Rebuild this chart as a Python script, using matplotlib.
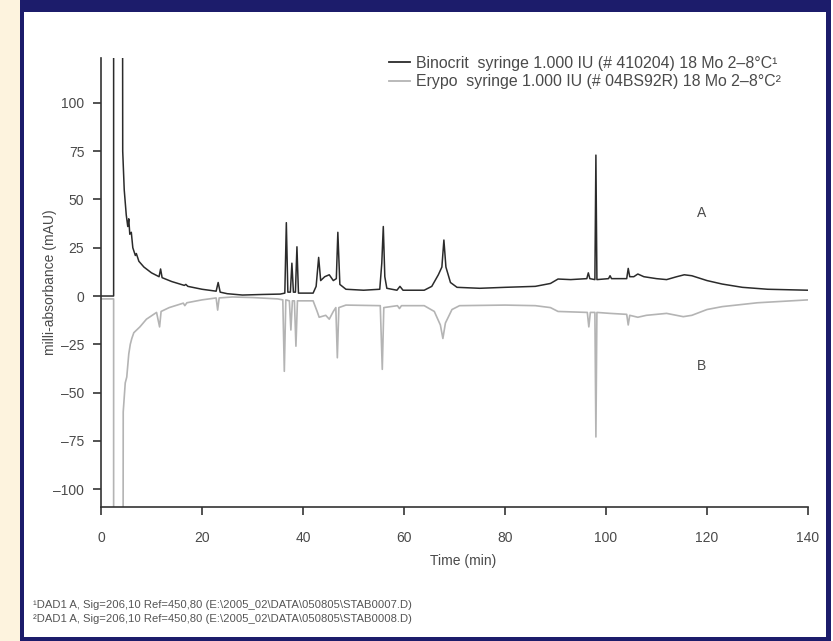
import matplotlib
matplotlib.use("Agg")
import matplotlib.pyplot as plt
from matplotlib.patches import Rectangle
from matplotlib.lines import Line2D

plt.rcParams['font.family'] = ['Liberation Sans', 'DejaVu Sans']

# ---- data ----
time_a = [0, 2.5, 2.5, 4.1, 4.3, 4.6, 5.0, 5.3, 5.5, 5.7, 6.0, 6.3, 6.8, 7.0, 7.5, 8.5,
          10, 11.5, 11.8, 12.1, 14, 16.5, 16.8, 17.2, 20, 22.8, 23.2, 23.6, 25, 28, 32,
          35.5, 36.4, 36.7, 37.0, 37.5, 37.8, 38.1, 38.5, 38.8, 39.1, 42.0, 42.6, 43.1,
          43.5, 44.3, 45.2, 46.0, 46.6, 46.9, 47.3, 48.5, 52, 55.2, 55.6, 55.9, 56.2,
          56.6, 58.6, 59.2, 59.8, 64, 65.5, 66.8, 67.5, 67.9, 68.3, 69.2, 70.5, 75, 80,
          86, 89, 90.5, 93, 96.2, 96.5, 96.8, 97.8, 98.0, 98.2, 100.5, 100.8, 101.1,
          104.1, 104.4, 104.7, 105.5, 106.3, 107.5, 110, 112, 114, 115.5, 117, 120, 123,
          127, 132, 140]
mau_a = [0, 0, 600, 600, 75, 55, 42, 36, 40, 32, 33, 25, 21, 22, 18, 15,
         12, 10, 14, 9.5, 7.5, 5.5, 6, 5, 3.5, 2.5, 7, 2.0, 1.2, 0.5, 0.8,
         1.0, 1.5, 38, 2, 2, 17, 2, 2, 25.5, 1.5, 1.5, 5, 20,
         8, 10, 11, 8, 9, 33, 6, 3.5, 3, 3.5, 17, 36, 10,
         4, 3, 5, 3, 3, 5, 11, 15, 29, 15, 7, 4.5, 4, 4.5,
         5, 6.5, 8.8, 8.5, 9, 12, 9, 8.5, 73, 8.5, 9, 10.5, 9,
         9, 14.3, 10, 10, 11.4, 10, 9, 8.5, 10, 11, 10.5, 8, 6.2,
         4.5, 3.5, 3]

time_b = [0, 2.5, 2.5, 4.2, 4.4, 4.8, 5.1, 5.5, 5.8, 6.1, 6.5, 7.7, 9, 11, 11.6, 11.9,
          13.5, 16.3, 16.6, 17, 20, 22.8, 23.1, 23.4, 26, 30, 35, 36.0, 36.3, 36.6,
          37.3, 37.6, 37.9, 38.3, 38.6, 38.9, 42, 42.8, 43.2, 44.5, 45.2, 46, 46.5,
          46.8, 47.1, 48.5, 55.3, 55.7, 56.0, 58.7, 59.1, 59.5, 64, 66, 67.2, 67.7,
          68.2, 69.5, 71, 80, 86, 89, 90.5, 96.3, 96.6, 96.9, 97.8, 98.0, 98.2, 100.8,
          104.1, 104.4, 104.7, 106.3, 108, 112, 115.3, 117, 120, 123, 130, 140]
mau_b = [-1.5, -1.5, -600, -600, -60, -45, -42, -30, -25, -22, -19, -16, -12, -8.5, -16, -8,
         -6, -3.7, -5, -3.5, -2, -1, -7.3, -1, -0.5, -0.8, -1.5, -2, -39, -2,
         -2.5, -17.6, -2.5, -2.5, -26, -2.5, -2.5, -8, -11, -10, -12, -8, -6,
         -32, -6, -4.7, -5, -38, -6, -5, -6.5, -5, -5, -8, -15, -22,
         -14, -7, -5, -4.7, -5, -6, -8, -8.5, -16, -8.5, -8.5, -73, -8.5, -9,
         -9.5, -15, -10, -11, -10, -9, -10.7, -10, -7, -5.5, -3.5, -2]

x_ticks = [0, 20, 40, 60, 80, 100, 120, 140]
y_ticks = [-100, -75, -50, -25, 0, 25, 50, 75, 100]
legend_labels = ["Binocrit  syringe 1.000 IU (# 410204) 18 Mo 2\u20138\u00b0C\u00b9",
                 "Erypo  syringe 1.000 IU (# 04BS92R) 18 Mo 2\u20138\u00b0C\u00b2"]
footnotes = ["\u00b9DAD1 A, Sig=206,10 Ref=450,80 (E:\\2005_02\\DATA\\050805\\STAB0007.D)",
             "\u00b2DAD1 A, Sig=206,10 Ref=450,80 (E:\\2005_02\\DATA\\050805\\STAB0008.D)"]

W, H = 833, 641
fig = plt.figure(figsize=(W / 100, H / 100), dpi=100)
fig.patch.set_facecolor('white')

navy = '#1c1c6b'
cream = '#fdf3de'
fig.patches.append(Rectangle((0, 0), 20 / W, 1, transform=fig.transFigure,
                             facecolor=cream, edgecolor='none', zorder=0))
fig.patches.append(Rectangle((20 / W, 0), 4 / W, 1, transform=fig.transFigure,
                             facecolor=navy, edgecolor='none', zorder=0))
fig.patches.append(Rectangle((20 / W, 1 - 12 / H), 811 / W, 12 / H, transform=fig.transFigure,
                             facecolor=navy, edgecolor='none', zorder=0))
fig.patches.append(Rectangle((826 / W, 0), 5 / W, 1, transform=fig.transFigure,
                             facecolor=navy, edgecolor='none', zorder=0))
fig.patches.append(Rectangle((20 / W, 0), 811 / W, 4 / H, transform=fig.transFigure,
                             facecolor=navy, edgecolor='none', zorder=0))

left, right, top, bottom = 101, 808, 58, 507
ax = fig.add_axes([left / W, 1 - bottom / H, (right - left) / W, (bottom - top) / H])
ax.set_facecolor('none')

grey = '#b4b4b4'
dark = '#2b2b2b'
ax.plot(time_b, mau_b, color=grey, lw=1.2, zorder=2)
ax.plot(time_a, mau_a, color=dark, lw=1.1, zorder=3)

ax.set_xlim(0, 140)
ax.set_ylim(-109.3, 123.3)
ax.set_xticks(x_ticks)
ax.set_yticks(y_ticks)
ax.set_yticklabels([str(v).replace('-', '\u2013') for v in y_ticks])

txtc = '#4a4a4a'
for s in ['top', 'right']:
    ax.spines[s].set_visible(False)
for s in ['left', 'bottom']:
    ax.spines[s].set_color('#333333')
    ax.spines[s].set_linewidth(1.2)
ax.tick_params(axis='both', direction='out', length=6, width=1.3, color='#444444',
               labelsize=10, labelcolor=txtc)
ax.tick_params(axis='x', pad=11)
ax.tick_params(axis='y', pad=6)

ax.set_ylabel('milli-absorbance (mAU)', fontsize=10, color=txtc)
ax.yaxis.set_label_coords((57 - left) / (right - left), 0.5)
ax.set_xlabel('Time (min)', fontsize=10, color=txtc)
ax.xaxis.set_label_coords((463 - left) / (right - left), -(554 - bottom) / (bottom - top))

ax.text(119, 43, 'A', fontsize=10, color=txtc, ha='center', va='center')
ax.text(119, -36, 'B', fontsize=10, color=txtc, ha='center', va='center')

handles = [Line2D([], [], color=dark, lw=1.3), Line2D([], [], color=grey, lw=1.3)]
leg = ax.legend(handles, legend_labels, loc='upper left',
                bbox_to_anchor=(389 / W, 1 - 56 / H), bbox_transform=fig.transFigure,
                frameon=False, fontsize=11.4, handlelength=1.3, handletextpad=0.4,
                labelspacing=0.2, borderpad=0, borderaxespad=0)
for t in leg.get_texts():
    t.set_color(txtc)

fig.text(33 / W, 1 - 605 / H, footnotes[0], fontsize=8.1, color='#555555', va='center', ha='left')
fig.text(33 / W, 1 - 619 / H, footnotes[1], fontsize=8.1, color='#555555', va='center', ha='left')

fig.savefig('out.png', dpi=100)
